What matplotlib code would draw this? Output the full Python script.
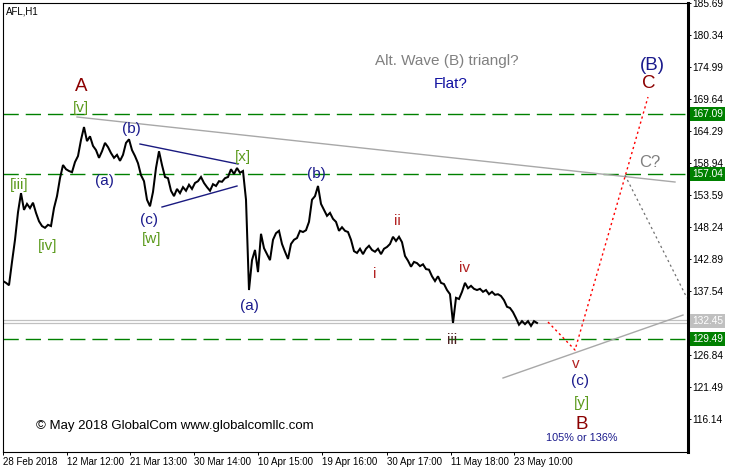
import matplotlib
matplotlib.use('Agg')
import matplotlib.pyplot as plt
import matplotlib.transforms as mtransforms
import numpy as np

plt.rcParams['font.family'] = ['Liberation Sans', 'DejaVu Sans']
plt.rcParams['lines.scale_dashes'] = False

# ---------------- data ----------------
bar_step = 3
close = [
    139.2, 138.9, 138.5, 142.4, 146.1, 150.7, 153.9, 151.1, 152.1, 151.4,
    152.3, 150.6, 149.2, 148.4, 148.1, 148.6, 148.4, 151.4, 153.4, 156.4,
    158.6, 157.9, 157.6, 157.4, 159.1, 160.1, 162.8, 164.95, 162.6, 163.4,
    161.8, 161.1, 159.8, 160.9, 162.3, 161.6, 160.6, 159.8, 160.3, 159.3,
    160.3, 162.3, 162.9, 161.1, 160.1, 158.9, 156.9, 155.9, 152.8, 151.7,
    154.1, 158.1, 160.9, 158.6, 156.6, 156.4, 154.3, 153.4, 154.6, 153.9,
    154.9, 154.3, 155.3, 154.6, 155.6, 155.9, 156.6, 155.6, 154.9, 154.3,
    155.4, 155.1, 155.9, 155.8, 156.4, 156.6, 157.9, 157.1, 158.1, 157.3,
    157.6, 152.8, 137.7, 142.7, 144.4, 140.7, 147.1, 144.7, 143.7, 142.7,
    146.1, 147.2, 147.6, 145.4, 144.1, 142.9, 145.4, 146.1, 146.4, 147.6,
    147.4, 147.7, 149.1, 152.8, 153.4, 155.1, 152.1, 151.1, 150.1, 150.6,
    149.6, 149.1, 147.6, 148.2, 147.6, 147.4, 146.1, 144.2, 143.9, 144.6,
    143.7, 144.6, 145.1, 144.4, 144.1, 144.6, 143.7, 144.6, 144.9, 145.4,
    146.6, 145.9, 146.6, 145.7, 143.4, 142.6, 141.6, 142.4, 142.2, 141.7,
    142.0, 141.2, 141.1, 140.0, 139.2, 140.0, 138.9, 138.7, 137.7, 137.0,
    132.2, 136.4, 136.2, 137.4, 138.9, 138.0, 138.4, 137.9, 137.7, 137.9,
    137.4, 137.7, 137.0, 137.4, 136.9, 137.0, 136.7, 136.0, 134.9, 134.7,
    134.0, 133.0, 131.9, 132.5, 132.0, 132.5, 131.7, 132.5, 132.2,
]
bars = np.arange(len(close)) * bar_step

x_tick_bars = [0, 64, 127, 191, 255, 319, 384, 448, 511]
x_tick_labels = ["28 Feb 2018", "12 Mar 12:00", "21 Mar 13:00", "30 Mar 14:00",
                 "10 Apr 15:00", "19 Apr 16:00", "30 Apr 17:00", "11 May 18:00",
                 "23 May 10:00"]
y_ticks = [185.69, 180.34, 174.99, 169.64, 164.29, 158.94, 153.59, 148.24,
           142.89, 137.54, 126.84, 121.49, 116.14]
green_levels = [167.09, 157.04, 129.49]
current_price = 132.45
bid_ask = [132.69, 132.24]

# trend / projection lines (bar, price)
upper_trend_bars = [74, 672]
upper_trend_prices = [166.63, 155.76]
lower_trend_bars = [500, 680]
lower_trend_prices = [122.99, 133.52]
tri_upper_bars = [137, 235]
tri_upper_prices = [162.11, 158.77]
tri_lower_bars = [159, 234]
tri_lower_prices = [151.58, 155.09]
proj_red_bars = [545, 572, 645]
proj_red_prices = [132.35, 127.67, 169.97]
proj_gray_bars = [622, 684]
proj_gray_prices = [156.9, 136.37]

# ---------------- figure ----------------
W, H = 732, 468
fig = plt.figure(figsize=(W / 100, H / 100), dpi=100)
fig.patch.set_facecolor('white')
ax_l, ax_r, ax_t, ax_b = 3, 688, 3, 452
ax = fig.add_axes([ax_l / W, 1 - ax_b / H, (ax_r - ax_l) / W, (ax_b - ax_t) / H])
ax.set_xlim(0, ax_r - ax_l)
ax.set_ylim(110.62, 185.69)

# horizontal levels
for lv in green_levels:
    ax.axhline(lv, color='#008000', lw=1.0, dashes=(11, 5), zorder=1)
for lv in bid_ask:
    ax.axhline(lv, color='#c0c0c0', lw=0.9, zorder=1)

# trend lines
ax.plot(upper_trend_bars, upper_trend_prices, color='#a8a8a8', lw=1.0, zorder=2)
ax.plot(lower_trend_bars, lower_trend_prices, color='#a8a8a8', lw=1.0, zorder=2)
ax.plot(tri_upper_bars, tri_upper_prices, color='#1a1a80', lw=1.0, zorder=2)
ax.plot(tri_lower_bars, tri_lower_prices, color='#1a1a80', lw=1.0, zorder=2)
ax.plot(proj_red_bars, proj_red_prices, color='#ff0000', lw=1.0, dashes=(1.6, 2.2), zorder=2)
ax.plot(proj_gray_bars, proj_gray_prices, color='#707070', lw=0.9, dashes=(1.6, 2.2), zorder=2)

# price
ax.plot(bars, close, color='black', lw=1.45, zorder=3, solid_joinstyle='miter')

# wave labels
GREEN = '#5b9a1c'
NAVY = '#1a1a8c'
DRED = '#8b0000'
RED = '#b22222'
labels = [
    ("[iii]", 16, 155.2, GREEN, 11),
    ("[iv]", 45, 145.06, GREEN, 11),
    ("[v]", 78, 168.2, GREEN, 11),
    ("A", 78, 171.8, DRED, 13.5),
    ("(a)", 101, 155.93, NAVY, 11),
    ("(b)", 128, 164.62, NAVY, 11),
    ("(c)", 146, 149.4, NAVY, 11),
    ("[w]", 149, 146.23, GREEN, 11),
    ("[x]", 240, 159.94, GREEN, 11),
    ("(b)", 313, 157.1, NAVY, 11),
    ("(a)", 246, 135.0, NAVY, 11),
    ("i", 372, 140.38, RED, 11),
    ("ii", 394, 149.2, RED, 11),
    ("iii", 449, 129.3, '#4a2020', 11),
    ("iv", 462, 141.38, RED, 11),
    ("v", 573, 125.4, RED, 11),
    ("(c)", 577, 122.49, NAVY, 11),
    ("[y]", 579, 118.8, GREEN, 11),
    ("B", 579, 115.3, DRED, 13.5),
    ("105% or 136%", 579, 112.9, NAVY, 7.8),
    ("(B)", 649, 175.2, NAVY, 13.5),
    ("C", 646, 172.2, DRED, 13.5),
    ("C?", 647, 158.95, '#808080', 12),
    ("Alt. Wave (B) triangl?", 444, 176.0, '#808080', 11),
    ("Flat?", 448, 172.15, '#1010a0', 11),
]
for txt, bx, py, col, fs in labels:
    ax.text(bx, py, txt, color=col, fontsize=fs, ha='center', va='center', zorder=4)

ax.text(33, 114.96, "\u00a9 May 2018 GlobalCom www.globalcomllc.com", color='black',
        fontsize=9.5, ha='left', va='center', zorder=4)
ax.text(3, 184.2, "AFL,H1", color='black', fontsize=7, ha='left', va='center', zorder=4)

# axes styling
for s in ['left', 'top', 'bottom']:
    ax.spines[s].set_linewidth(0.8)
ax.spines['right'].set_linewidth(2.2)

ax.yaxis.tick_right()
ax.set_yticks(y_ticks)
ax.set_yticklabels([f"{v:.2f}" for v in y_ticks])
ax.tick_params(axis='y', direction='out', length=2.2, width=0.7, pad=1.0, labelsize=7.3)
ax.set_xticks(x_tick_bars)
ax.set_xticklabels(x_tick_labels, ha='left')
ax.tick_params(axis='x', direction='out', length=2.2, width=0.7, pad=1.5, labelsize=7.0)
for lbl in ax.get_xticklabels():
    lbl.set_horizontalalignment('left')

# price boxes on right axis
trans = mtransforms.blended_transform_factory(ax.transAxes, ax.transData)
box_x = 1 + (692 - ax_r) / (ax_r - ax_l)
for lv in green_levels:
    ax.text(box_x, lv, f"{lv:.2f}", transform=trans, color='white', fontsize=7.3,
            ha='left', va='center', clip_on=False, zorder=6,
            bbox=dict(boxstyle='square,pad=0.2', fc='#008000', ec='none'))
ax.text(box_x, current_price, f"{current_price:.2f}", transform=trans, color='white',
        fontsize=7.3, ha='left', va='center', clip_on=False, zorder=6,
        bbox=dict(boxstyle='square,pad=0.2', fc='#c0c0c0', ec='none'))

fig.savefig('out.png', dpi=100, facecolor='white')
